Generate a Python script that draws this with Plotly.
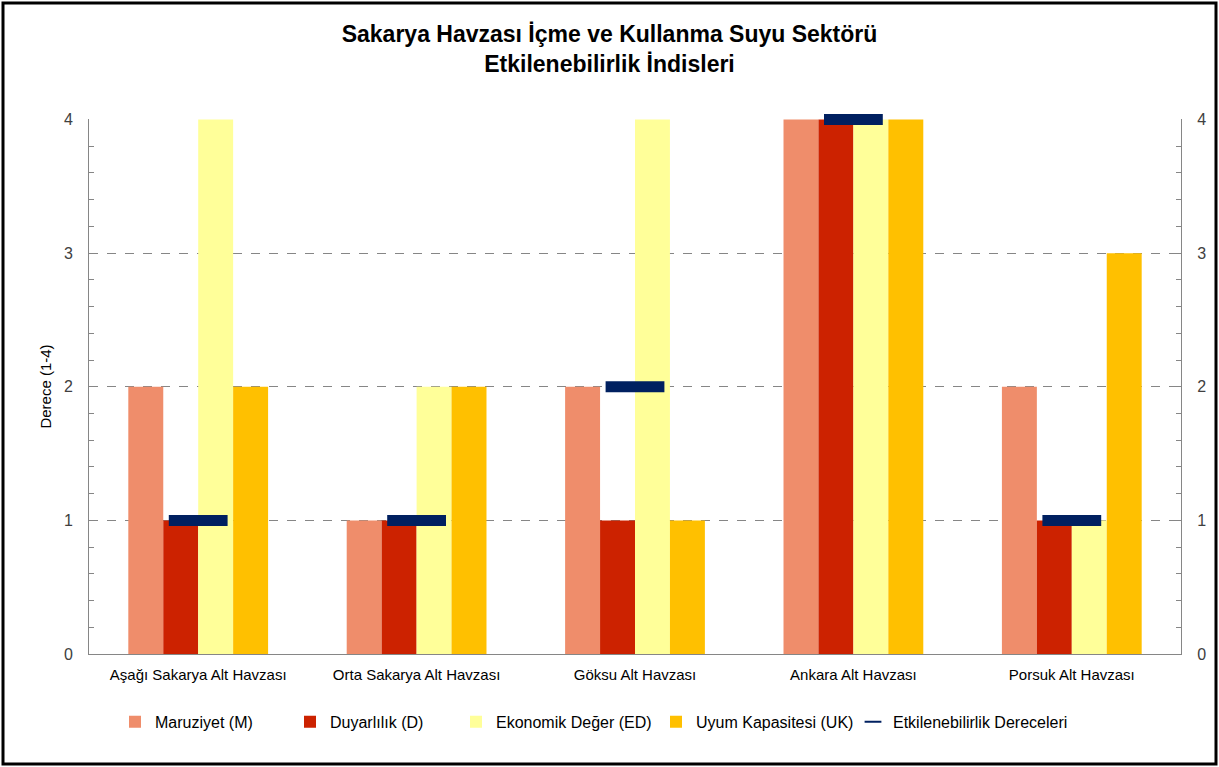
import plotly.graph_objects as go

categories = ["Aşağı Sakarya Alt Havzası", "Orta Sakarya Alt Havzası", "Göksu Alt Havzası",
              "Ankara Alt Havzası", "Porsuk Alt Havzası"]
maruziyet = [2, 1, 2, 4, 2]
duyarlilik = [1, 1, 1, 4, 1]
ekonomik = [4, 2, 4, 4, 1]
uyum = [2, 2, 1, 4, 3]
derece = [1, 1, 2, 4, 1]

names = ["Maruziyet (M)", "Duyarlılık (D)", "Ekonomik Değer (ED)", "Uyum Kapasitesi (UK)",
         "Etkilenebilirlik Dereceleri"]
colors = ["#EF8D6B", "#CC2200", "#FFFF99", "#FFC000", "#002060"]

FONT = "Liberation Sans Narrow, Liberation Sans, Arial"

W, H = 1219, 767
ml, mr, mt, mb = 89, 38, 119, 113
pw, ph = W - ml - mr, H - mt - mb

def px(x):
    return (x - ml) / pw

def py(y):
    return (H - mb - y) / ph

legend_ids = ["legend", "legend2", "legend3", "legend4", "legend5"]
legend_sym_x = [135, 310, 476, 676, 873]

fig = go.Figure()
for i, (vals, nm, col) in enumerate(zip([maruziyet, duyarlilik, ekonomik, uyum], names[:4], colors[:4])):
    fig.add_trace(go.Bar(x=categories, y=vals, name=nm, marker_color=col,
                         marker_line_width=0, legend=legend_ids[i]))
fig.add_trace(go.Scatter(x=categories, y=derece, name=names[4], mode="markers",
                         yaxis="y2", cliponaxis=False, legend=legend_ids[4],
                         marker=dict(symbol="line-ew", size=42,
                                     line=dict(width=11, color=colors[4]),
                                     color=colors[4])))

axis_common = dict(range=[0, 4.004], tickvals=[0, 1, 2, 3, 4], showline=True,
                   linecolor="#868686", linewidth=1, ticks="inside", ticklen=0,
                   minor=dict(ticks="inside", ticklen=5, tickcolor="#868686", dtick=0.2),
                   tickfont=dict(family=FONT, size=16, color="#404040"), zeroline=False,
                   ticklabelstandoff=12)

legends = {}
for lid, sx in zip(legend_ids, legend_sym_x):
    legends[lid] = dict(orientation="h", x=px(sx - 20), xanchor="left",
                        y=-0.095, yanchor="top", bgcolor="rgba(0,0,0,0)",
                        font=dict(family=FONT, size=16, color="black"),
                        itemwidth=30)
legends["legend5"]["itemsizing"] = "constant"

fig.update_layout(
    width=W, height=H,
    margin=dict(l=ml, r=mr, t=mt, b=mb),
    paper_bgcolor="white", plot_bgcolor="white",
    barmode="group", bargap=0.36, bargroupgap=0,
    title=dict(text="<b>Sakarya Havzası İçme ve Kullanma Suyu Sektörü<br>Etkilenebilirlik İndisleri</b>",
               x=0.5, xanchor="center", y=0.945, yanchor="top",
               font=dict(family=FONT, size=23, color="black")),
    xaxis=dict(showline=True, linecolor="#868686", linewidth=1, ticks="",
               tickfont=dict(family=FONT, size=15, color="black"),
               ticklabelstandoff=7),
    yaxis=dict(**axis_common, showgrid=True, gridcolor="#868686", griddash="dash",
               gridwidth=1,
               title=dict(text="Derece (1-4)", font=dict(family=FONT, size=15, color="black"),
                          standoff=8)),
    yaxis2=dict(**axis_common, overlaying="y", side="right", showgrid=False),
    showlegend=True,
    shapes=[dict(type="rect", xref="paper", yref="paper",
                 x0=px(3), x1=px(W - 3), y0=py(H - 3), y1=py(3),
                 line=dict(color="black", width=3), layer="above")],
    **legends,
)

fig.write_html("out.html", config={"displayModeBar": False},
               post_script="document.body.style.margin='0';document.body.style.overflow='hidden';")
